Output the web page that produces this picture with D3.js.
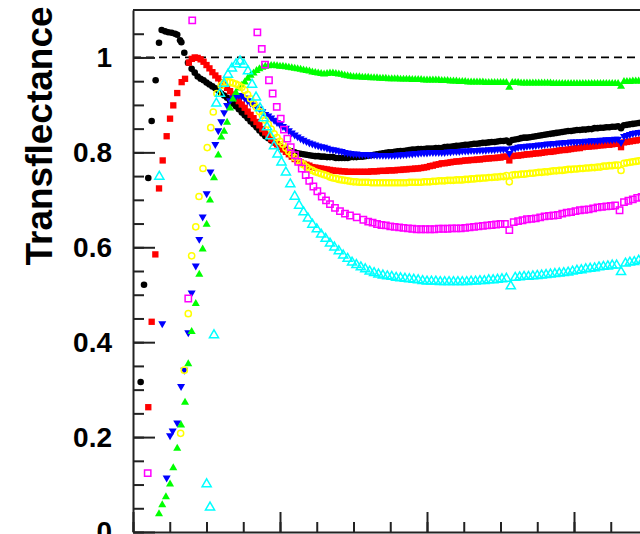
<!DOCTYPE html>
<html>
<head>
<meta charset="utf-8">
<script src="https://cdn.jsdelivr.net/npm/d3@7"></script>
<style>
  body { margin: 0; background: #fff; }
  text { font-family: "Liberation Sans", Arial, sans-serif; }
</style>
</head>
<body>
<svg id="chart"></svg>
<script>
// ---- data (wavelength in nm, transflectance) ----
// steep rising edges are listed point by point, the smooth parts on a regular wavelength grid

const blackSparse = [[405.2,0.316],[407.5,0.521],[410.4,0.746],[412.7,0.866],[415.4,0.952],[417.7,1.031],[419.5,1.058],[421.8,1.055],[424.0,1.053],[426.3,1.052],[428.6,1.050],[430.1,1.048],[432.0,1.036],[432.9,1.032],[434.9,1.010],[437.4,0.989],[439.9,0.976]];
const blackStart = 442, blackStep = 2;
const blackDense = [
  0.968,0.960,0.955,0.952,0.947,0.943,0.939,0.935,0.931,0.924,
  0.920,0.915,0.909,0.903,0.897,0.891,0.884,0.878,0.872,0.865,
  0.859,0.853,0.846,0.840,0.834,0.830,0.825,0.821,0.817,0.813,
  0.809,0.806,0.804,0.802,0.800,0.798,0.797,0.796,0.795,0.794,
  0.793,0.792,0.792,0.791,0.791,0.790,0.790,0.790,0.788,0.788,
  0.788,0.788,0.788,0.790,0.790,0.790,0.791,0.791,0.792,0.793,
  0.794,0.795,0.796,0.797,0.798,0.799,0.800,0.800,0.801,0.802,
  0.803,0.803,0.804,0.805,0.806,0.806,0.807,0.807,0.807,0.808,
  0.808,0.808,0.809,0.809,0.809,0.811,0.812,0.812,0.813,0.814,
  0.814,0.815,0.816,0.816,0.817,0.818,0.818,0.819,0.820,0.820,
  0.821,0.822,0.822,0.823,0.824,0.824,0.825,0.821,0.826,0.827,
  0.828,0.830,0.831,0.831,0.832,0.833,0.834,0.835,0.836,0.837,
  0.838,0.839,0.840,0.841,0.842,0.843,0.844,0.845,0.845,0.846,
  0.847,0.847,0.848,0.848,0.849,0.849,0.851,0.851,0.852,0.852,
  0.853,0.853,0.854,0.854,0.855,0.851,0.857,0.858,0.859,0.860,
  0.861,0.862,0.863];

const redSparse = [[410.4,0.263],[412.7,0.443],[415.2,0.585],[417.7,0.724],[420.2,0.783],[422.9,0.834],[425.2,0.871],[427.4,0.899],[430.1,0.925],[433.1,0.948],[435.4,0.955]];
const redStart = 438, redStep = 2;
const redDense = [
  0.989,0.997,1.000,0.999,0.996,0.991,0.984,0.977,0.969,0.962,
  0.956,0.948,0.942,0.936,0.929,0.922,0.916,0.908,0.901,0.894,
  0.886,0.879,0.872,0.864,0.857,0.849,0.842,0.835,0.828,0.822,
  0.817,0.812,0.806,0.801,0.796,0.791,0.786,0.782,0.779,0.776,
  0.774,0.772,0.769,0.768,0.767,0.766,0.765,0.764,0.763,0.762,
  0.761,0.761,0.760,0.760,0.759,0.759,0.759,0.759,0.759,0.759,
  0.759,0.759,0.760,0.760,0.760,0.761,0.761,0.761,0.762,0.762,
  0.762,0.763,0.763,0.764,0.764,0.765,0.765,0.766,0.766,0.767,
  0.768,0.769,0.771,0.772,0.774,0.775,0.777,0.777,0.778,0.779,
  0.780,0.781,0.781,0.782,0.783,0.783,0.784,0.784,0.785,0.785,
  0.786,0.787,0.787,0.788,0.788,0.789,0.789,0.791,0.791,0.783,
  0.792,0.793,0.793,0.794,0.795,0.796,0.796,0.797,0.798,0.798,
  0.799,0.800,0.801,0.801,0.802,0.803,0.804,0.805,0.805,0.806,
  0.807,0.808,0.809,0.809,0.811,0.812,0.812,0.813,0.813,0.814,
  0.815,0.815,0.816,0.816,0.817,0.818,0.818,0.811,0.821,0.822,
  0.823,0.824,0.825,0.826,0.827];

const blueSparse = [[419.9,0.439],[422.9,0.114],[425.2,0.203],[427.0,0.213],[430.1,0.230],[432.7,0.307],[434.9,0.341],[437.6,0.420],[439.9,0.504],[442.7,0.561],[445.1,0.617],[447.4,0.664],[450.1,0.713],[452.7,0.759]];
const blueStart = 456, blueStep = 2;
const blueDense = [
  0.817,0.846,0.865,0.884,0.899,0.909,0.915,0.918,0.920,0.919,
  0.915,0.909,0.904,0.900,0.896,0.892,0.886,0.880,0.877,0.873,
  0.868,0.863,0.859,0.855,0.851,0.846,0.841,0.837,0.833,0.829,
  0.826,0.823,0.820,0.818,0.816,0.814,0.812,0.811,0.809,0.807,
  0.806,0.805,0.803,0.802,0.800,0.799,0.798,0.797,0.797,0.796,
  0.796,0.796,0.795,0.795,0.795,0.794,0.794,0.794,0.794,0.794,
  0.794,0.794,0.795,0.795,0.796,0.796,0.797,0.797,0.798,0.798,
  0.799,0.799,0.799,0.800,0.800,0.800,0.800,0.800,0.800,0.801,
  0.801,0.802,0.802,0.802,0.803,0.803,0.803,0.804,0.804,0.804,
  0.805,0.805,0.805,0.806,0.806,0.806,0.807,0.807,0.807,0.807,
  0.798,0.808,0.809,0.811,0.812,0.812,0.813,0.814,0.814,0.815,
  0.816,0.816,0.817,0.818,0.818,0.819,0.819,0.820,0.820,0.821,
  0.821,0.822,0.822,0.822,0.823,0.823,0.824,0.824,0.825,0.825,
  0.825,0.826,0.826,0.827,0.827,0.827,0.828,0.828,0.821,0.834,
  0.836,0.838,0.840,0.841,0.842,0.843];

const greenSparse = [[417.7,0.038],[419.9,0.057],[422.4,0.074],[425.2,0.101],[427.4,0.135],[430.1,0.176],[432.7,0.225],[435.4,0.273],[437.6,0.354],[439.9,0.422],[442.7,0.481],[445.1,0.543],[447.4,0.596],[450.1,0.648],[452.4,0.699],[455.1,0.746],[458.0,0.794]];
const greenStart = 460, greenStep = 2;
const greenDense = [
  0.832,0.844,0.863,0.893,0.912,0.926,0.935,0.941,0.948,0.956,
  0.962,0.967,0.972,0.976,0.979,0.981,0.982,0.983,0.983,0.982,
  0.981,0.981,0.980,0.979,0.978,0.977,0.976,0.975,0.973,0.972,
  0.971,0.969,0.968,0.967,0.966,0.965,0.966,0.967,0.967,0.966,
  0.965,0.964,0.962,0.961,0.960,0.959,0.959,0.959,0.958,0.958,
  0.958,0.957,0.957,0.957,0.956,0.956,0.956,0.955,0.955,0.955,
  0.955,0.954,0.954,0.954,0.954,0.953,0.953,0.953,0.953,0.952,
  0.952,0.952,0.952,0.952,0.952,0.951,0.951,0.951,0.950,0.950,
  0.950,0.949,0.949,0.949,0.948,0.948,0.948,0.948,0.948,0.948,
  0.947,0.947,0.947,0.947,0.947,0.947,0.947,0.947,0.937,0.947,
  0.947,0.947,0.946,0.946,0.946,0.946,0.946,0.946,0.946,0.946,
  0.946,0.946,0.946,0.945,0.945,0.945,0.945,0.945,0.945,0.945,
  0.945,0.945,0.945,0.945,0.945,0.945,0.945,0.945,0.945,0.945,
  0.945,0.945,0.945,0.945,0.945,0.945,0.939,0.949,0.949,0.949,
  0.950,0.950,0.950,0.950];

const yellowSparse = [[432.4,0.208],[434.9,0.341],[437.6,0.460],[439.9,0.582],[442.7,0.643],[444.9,0.707],[447.6,0.766],[450.5,0.810],[452.9,0.852],[454.6,0.885],[457.1,0.924]];
const yellowStart = 460, yellowStep = 2;
const yellowDense = [
  0.941,0.947,0.949,0.948,0.946,0.944,0.941,0.937,0.931,0.922,
  0.913,0.903,0.895,0.886,0.878,0.868,0.859,0.849,0.839,0.831,
  0.823,0.817,0.809,0.802,0.796,0.789,0.783,0.778,0.774,0.769,
  0.765,0.762,0.759,0.757,0.755,0.753,0.751,0.748,0.746,0.745,
  0.743,0.742,0.741,0.740,0.739,0.738,0.738,0.737,0.737,0.737,
  0.737,0.736,0.736,0.736,0.736,0.736,0.736,0.736,0.736,0.736,
  0.736,0.736,0.736,0.736,0.737,0.737,0.737,0.737,0.737,0.738,
  0.738,0.738,0.739,0.739,0.740,0.740,0.740,0.741,0.741,0.741,
  0.742,0.742,0.742,0.743,0.743,0.744,0.744,0.745,0.745,0.746,
  0.746,0.747,0.747,0.748,0.748,0.749,0.749,0.751,0.738,0.752,
  0.753,0.753,0.754,0.754,0.755,0.756,0.756,0.757,0.758,0.758,
  0.759,0.759,0.760,0.761,0.761,0.762,0.762,0.763,0.764,0.764,
  0.765,0.765,0.766,0.766,0.767,0.767,0.768,0.768,0.769,0.769,
  0.771,0.771,0.772,0.772,0.773,0.773,0.762,0.777,0.778,0.779,
  0.780,0.781,0.782,0.783];

const magentaSparse = [[410.0,0.124],[437.6,0.492],[440.3,1.078],[484.6,1.053],[487.6,1.018],[489.8,0.985],[492.5,0.952],[495.0,0.924],[497.8,0.896],[500.5,0.871],[502.7,0.848],[505.0,0.829],[507.3,0.811],[510.2,0.794],[512.4,0.780],[514.8,0.766],[517.5,0.752],[519.9,0.740],[522.7,0.728],[525.4,0.718],[528.4,0.707],[531.3,0.699],[534.0,0.691],[537.4,0.683],[540.8,0.676],[544.2,0.671],[547.6,0.667],[552.2,0.663],[556.7,0.658]];
const magentaStart = 560, magentaStep = 3;
const magentaDense = [
  0.654,0.652,0.649,0.647,0.646,0.644,0.643,0.642,0.641,0.640,
  0.639,0.638,0.638,0.638,0.638,0.638,0.639,0.639,0.639,0.640,
  0.640,0.640,0.641,0.642,0.643,0.644,0.645,0.646,0.647,0.648,
  0.649,0.649,0.636,0.653,0.655,0.657,0.659,0.660,0.661,0.663,
  0.665,0.666,0.667,0.668,0.671,0.673,0.674,0.676,0.678,0.679,
  0.680,0.682,0.684,0.685,0.686,0.687,0.688,0.678,0.695,0.698,
  0.701,0.704,0.706];

const cyanSparse = [[417.9,0.749],[450.1,0.101],[452.4,0.052],[455.1,0.415],[456.7,0.903],[459.2,0.924],[461.9,0.945],[464.6,0.964],[467.3,0.977],[470.1,0.986],[472.8,0.992],[475.5,0.985],[478.2,0.971],[481.0,0.943],[483.7,0.916],[486.4,0.893],[488.8,0.872],[491.2,0.853],[493.5,0.834],[495.9,0.813],[498.3,0.796]];
const cyanStart = 501, cyanStep = 3;
const cyanDense = [
  0.779,0.758,0.733,0.707,0.688,0.674,0.661,0.648,0.638,0.627,
  0.618,0.608,0.600,0.592,0.583,0.576,0.568,0.563,0.558,0.554,
  0.549,0.546,0.543,0.541,0.539,0.538,0.536,0.535,0.534,0.533,
  0.532,0.531,0.529,0.528,0.528,0.528,0.527,0.527,0.527,0.527,
  0.527,0.527,0.527,0.528,0.528,0.529,0.529,0.531,0.531,0.532,
  0.533,0.534,0.518,0.536,0.537,0.538,0.538,0.539,0.540,0.541,
  0.542,0.543,0.544,0.545,0.546,0.547,0.549,0.551,0.552,0.554,
  0.555,0.556,0.558,0.559,0.560,0.562,0.562,0.548,0.566,0.568,
  0.569,0.572,0.573];

const yTickLabels = ["0", "0.2", "0.4", "0.6", "0.8", "1"];
const xTickLabels = ["400", "500", "600", "700", "800"];
const yTitle = "Transflectance";

// ---- layout ----
const width = 640, height = 534;
const margin = { left: 133, top: 10 };
const plotBottom = 532, plotRight = 721;

const svg = d3.select("#chart").attr("width", width).attr("height", height);

const x = d3.scaleLinear([400, 800], [margin.left, plotRight]);
const y = d3.scaleLinear([0, 1.1], [plotBottom, margin.top]);

function points(sparse, start, step, dense) {
  return sparse.concat(dense.map((v, i) => [start + i * step, v]));
}

svg.append("clipPath").attr("id", "plot-area")
  .append("rect")
  .attr("x", margin.left).attr("y", margin.top)
  .attr("width", plotRight - margin.left).attr("height", plotBottom - margin.top);

// dashed reference line at 1
svg.append("line")
  .attr("x1", x(400)).attr("x2", x(800))
  .attr("y1", y(1)).attr("y2", y(1))
  .attr("stroke", "#000").attr("stroke-width", 1.8)
  .attr("stroke-dasharray", "8,5");

// markers
const series = [
  { pts: points(blackSparse, blackStart, blackStep, blackDense), shape: d3.symbolCircle, size: 34, rot: 0, fill: "#000", stroke: "none" },
  { pts: points(redSparse, redStart, redStep, redDense), shape: d3.symbolSquare, size: 40, rot: 0, fill: "#ff0000", stroke: "none" },
  { pts: points(blueSparse, blueStart, blueStep, blueDense), shape: d3.symbolTriangle, size: 28, rot: 180, fill: "#0000ff", stroke: "none" },
  { pts: points(greenSparse, greenStart, greenStep, greenDense), shape: d3.symbolTriangle, size: 28, rot: 0, fill: "#00ff00", stroke: "none" },
  { pts: points(yellowSparse, yellowStart, yellowStep, yellowDense), shape: d3.symbolCircle, size: 30, rot: 0, fill: "none", stroke: "#ffff00" },
  { pts: points(magentaSparse, magentaStart, magentaStep, magentaDense), shape: d3.symbolSquare, size: 40, rot: 0, fill: "none", stroke: "#ff00ff" },
  { pts: points(cyanSparse, cyanStart, cyanStep, cyanDense), shape: d3.symbolTriangle, size: 36, rot: 0, fill: "none", stroke: "#00ffff" }
];

const marks = svg.append("g").attr("clip-path", "url(#plot-area)");
series.forEach(s => {
  const path = d3.symbol(s.shape, s.size)();
  marks.append("g")
    .selectAll("path")
    .data(s.pts)
    .join("path")
    .attr("d", path)
    .attr("transform", d => `translate(${x(d[0])},${y(d[1])}) rotate(${s.rot})`)
    .attr("fill", s.fill)
    .attr("stroke", s.stroke)
    .attr("stroke-width", 1.5);
});

// axes
const axisColor = "#222";
const labelFont = "'Liberation Sans', Arial, sans-serif";

const yMinor = svg.append("g")
  .attr("transform", `translate(${margin.left},0)`)
  .call(d3.axisLeft(y).tickValues(d3.range(0, 1.1, 0.05)).tickSize(-11).tickSizeOuter(0).tickFormat(""));
yMinor.select(".domain").remove();

const yMajor = svg.append("g")
  .attr("transform", `translate(${margin.left},0)`)
  .call(d3.axisLeft(y).tickValues([0, 0.2, 0.4, 0.6, 0.8, 1]).tickSize(-22).tickSizeOuter(0)
    .tickPadding(21).tickFormat((d, i) => yTickLabels[i]));
yMajor.selectAll("text")
  .attr("font-size", 28).attr("font-weight", "bold").attr("fill", "#000")
  .attr("font-family", labelFont);

// x axis: its labels sit below the visible part of the page
const xMinor = svg.append("g")
  .attr("transform", `translate(0,${plotBottom})`)
  .call(d3.axisBottom(x).tickValues(d3.range(400, 801, 25)).tickSize(-10).tickSizeOuter(0).tickFormat(""));
xMinor.select(".domain").remove();

const xMajor = svg.append("g")
  .attr("transform", `translate(0,${plotBottom})`)
  .call(d3.axisBottom(x).tickValues([400, 500, 600, 700, 800]).tickSize(-20).tickSizeOuter(0)
    .tickPadding(14).tickFormat((d, i) => xTickLabels[i]));
xMajor.selectAll("text")
  .attr("font-size", 28).attr("font-weight", "bold").attr("fill", "#000")
  .attr("font-family", labelFont);

svg.selectAll(".tick line").attr("stroke", axisColor).attr("stroke-width", 2);
svg.selectAll(".domain").attr("stroke", axisColor).attr("stroke-width", 2);

// top frame
svg.append("line")
  .attr("x1", margin.left).attr("x2", plotRight)
  .attr("y1", margin.top).attr("y2", margin.top)
  .attr("stroke", axisColor).attr("stroke-width", 2);

// y title
svg.append("text")
  .attr("transform", "translate(52,136) rotate(-90)")
  .attr("text-anchor", "middle")
  .attr("font-size", 37)
  .attr("font-weight", "bold")
  .attr("fill", "#000")
  .text(yTitle);
</script>
</body>
</html>
